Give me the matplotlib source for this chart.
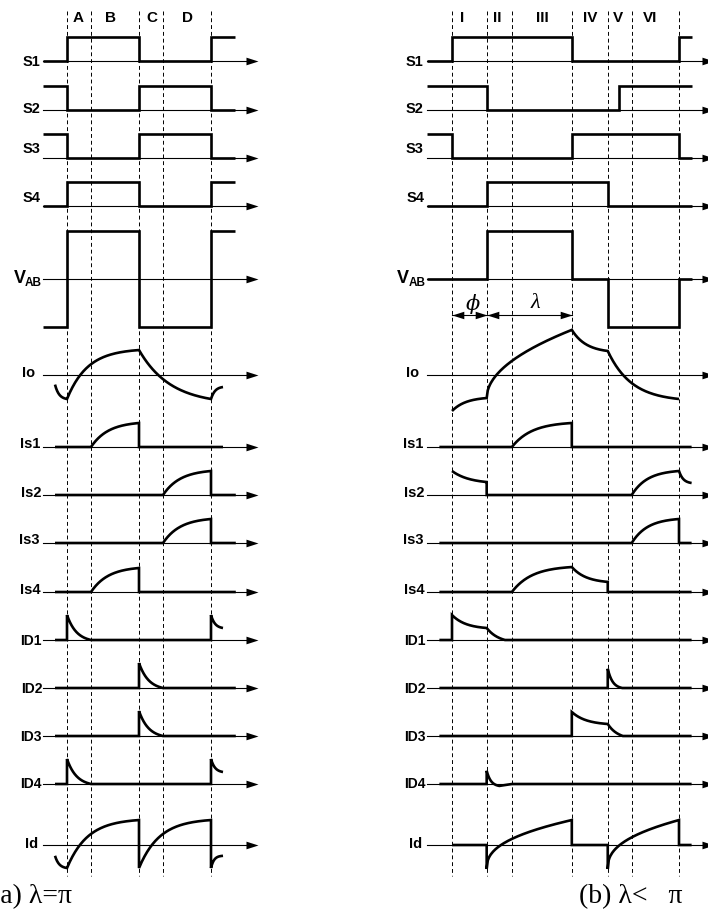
import numpy as np
import matplotlib
matplotlib.use('Agg')
import matplotlib.pyplot as plt
from matplotlib.path import Path
from matplotlib.transforms import offset_copy

W, H, DPI = 708, 920, 100

# ---------------- data ----------------
rows = ['S1', 'S2', 'S3', 'S4', 'VAB', 'Io', 'Is1', 'Is2', 'Is3', 'Is4',
        'ID1', 'ID2', 'ID3', 'ID4', 'Id']

# panel (a): lambda = pi  (time in electrical degrees)
edges_a = [0, 60, 180, 240, 360]
regions_a = ['A', 'B', 'C', 'D']
region_t_a = [28, 108, 212, 302]

# waveform pieces: (t0, t1, level) flat, or (t0, t1, v0, v1, kind, par) curved
S1_a = [(-60, 0, 0), (0, 180, 1), (180, 360, 0), (360, 420, 1)]
S2_a = [(-60, 0, 1), (0, 180, 0), (180, 360, 1), (360, 420, 0)]
S3_a = [(-60, 0, 1), (0, 180, 0), (180, 360, 1), (360, 420, 0)]
S4_a = [(-60, 0, 0), (0, 180, 1), (180, 360, 0), (360, 420, 1)]
VAB_a = [(-60, 0, -2), (0, 180, 2), (180, 360, -2), (360, 420, 2)]
Io_a = [(-30, 0, -0.4, -1.0, 'e', 3), (0, 180, -1.0, 1.04, 'e', 3.5),
        (180, 360, 1.04, -1.0, 'e', 2.3), (360, 390, -1.0, -0.5, 'e', 3)]
Is1_a = [(-30, 60, 0), (60, 180, 0, 1.0, 'e', 2.8), (180, 390, 0)]
Is2_a = [(-30, 240, 0), (240, 360, 0, 1.0, 'e', 2.8), (360, 422, 0)]
Is3_a = [(-30, 240, 0), (240, 360, 0, 1.0, 'e', 2.8), (360, 422, 0)]
Is4_a = [(-30, 60, 0), (60, 180, 0, 1.0, 'e', 2.8), (180, 422, 0)]
ID1_a = [(-30, 0, 0), (0, 60, 1.04, 0, 'e', 2.5), (60, 360, 0), (360, 390, 1.04, 0.5, 'e', 3)]
ID2_a = [(-30, 180, 0), (180, 240, 1.04, 0, 'e', 2.5), (240, 422, 0)]
ID3_a = [(-30, 180, 0), (180, 240, 1.04, 0, 'e', 2.5), (240, 422, 0)]
ID4_a = [(-30, 0, 0), (0, 60, 1.04, 0, 'e', 2.5), (60, 360, 0), (360, 390, 1.04, 0.5, 'e', 3)]
Id_a = [(-30, 0, -0.45, -0.96, 'e', 3), (0, 180, -0.96, 1.04, 'e', 3.5),
        (180, 360, -0.96, 1.04, 'e', 3.5), (360, 390, -0.96, -0.45, 'e', 4)]

# panel (b): lambda < pi
edges_b = [0, 55, 95, 190, 247, 285, 360]
regions_b = ['I', 'II', 'III', 'IV', 'V', 'VI']
region_t_b = [16, 71, 143, 219, 263, 314]
phi_b = (0, 55)
lam_b = (55, 190)

S1_b = [(-40, 0, 0), (0, 190, 1), (190, 360, 0), (360, 380, 1)]
S2_b = [(-40, 55, 1), (55, 265, 0), (265, 380, 1)]
S3_b = [(-40, 0, 1), (0, 190, 0), (190, 360, 1), (360, 380, 0)]
S4_b = [(-40, 55, 0), (55, 247, 1), (247, 380, 0)]
VAB_b = [(-40, 55, 0), (55, 190, 2), (190, 247, 0), (247, 360, -2), (360, 380, 0)]
Io_b = [(0, 55, -1.5, -0.96, 'e', 2.5), (55, 190, -0.96, 1.88, 'p', 0.5),
        (190, 247, 1.88, 1.0, 'e', 2.5), (247, 360, 1.0, -1.0, 'e', 3)]
Is1_b = [(-20, 95, 0), (95, 190, 0, 1.0, 'e', 3), (190, 380, 0)]
Is2_b = [(0, 55, 1.0, 0.54, 'e', 2), (55, 285, 0), (285, 360, 0, 1.0, 'e', 3),
         (360, 380, 1.0, 0.5, 'e', 3)]
Is3_b = [(-20, 285, 0), (285, 360, 0, 1.0, 'e', 3), (360, 380, 0)]
Is4_b = [(-20, 95, 0), (95, 190, 0, 1.04, 'e', 3), (190, 247, 1.04, 0.42, 'e', 2.5), (247, 380, 0)]
ID1_b = [(-20, 0, 0), (0, 55, 1.04, 0.5, 'e', 2.5), (55, 84, 0.5, 0, 'e', 1.5), (84, 380, 0)]
ID2_b = [(-20, 247, 0), (247, 270, 0.8, 0, 'e', 3), (270, 380, 0)]
ID3_b = [(-20, 190, 0), (190, 247, 1.0, 0.5, 'e', 2.5), (247, 271, 0.5, 0, 'e', 1.5), (271, 380, 0)]
ID4_b = [(-20, 55, 0), (55, 75, 0.55, -0.08, 'e', 3), (75, 95, -0.08, 0, 'l', 0), (95, 380, 0)]
Id_b = [(0, 55, 0), (55, 190, -1.0, 1.04, 'p', 0.4), (190, 247, 0),
        (247, 360, -1.0, 1.04, 'p', 0.4), (360, 380, 0)]

waves_a = [S1_a, S2_a, S3_a, S4_a, VAB_a, Io_a, Is1_a, Is2_a, Is3_a, Is4_a,
           ID1_a, ID2_a, ID3_a, ID4_a, Id_a]
waves_b = [S1_b, S2_b, S3_b, S4_b, VAB_b, Io_b, Is1_b, Is2_b, Is3_b, Is4_b,
           ID1_b, ID2_b, ID3_b, ID4_b, Id_b]

caption_a = '(a) λ=π'
caption_b = '(b) λ<   π'

# ---------------- layout ----------------
row_y = [62, 111, 159, 207, 280, 376, 448, 496, 544, 593, 641, 689, 737, 785, 846]
label_dy = [4, 2, -6, -5, 3, 1, 0, 1, 0, 1, 4, 4, 4, 3, 2]
label_gap = [3, 3, 3, 2, 1, 8, 3, 2, 3, 2, 1, 1, 1, 1, 5]
label_size = [10.5, 10.5, 10.5, 10.5, 10.5, 10.5, 10.5, 10.5, 10.5, 10.5,
              10, 10, 10, 10, 10.5]
unit = 24.0  # px per level unit

panels = [
    dict(origin=67, scale=0.4, start=-60, tip=477.5, edges=edges_a, regions=regions_a,
         region_t=region_t_a, waves=waves_a, caption=caption_a, cap_x=-9),
    dict(origin=452, scale=227 / 360, start=-40, tip=415, edges=edges_b, regions=regions_b,
         region_t=region_t_b, waves=waves_b, caption=caption_b, cap_x=579),
]

plt.rcParams['font.family'] = ['Liberation Sans', 'DejaVu Sans']

fig = plt.figure(figsize=(W / DPI, H / DPI), dpi=DPI)

THICK = 1.9
THIN = 0.8

head_r = Path([(0, 0), (-1, 0.32), (-1, -0.32), (0, 0)],
              [Path.MOVETO, Path.LINETO, Path.LINETO, Path.CLOSEPOLY])
head_l = Path([(0, 0), (1, 0.32), (1, -0.32), (0, 0)],
              [Path.MOVETO, Path.LINETO, Path.LINETO, Path.CLOSEPOLY])


def frac(s, kind, par):
    if kind == 'e':
        return (1 - np.exp(-par * s)) / (1 - np.exp(-par))
    if kind == 'p':
        return s ** par
    return s


def build(pieces):
    ts, vs = [], []
    for p in pieces:
        if len(p) == 3:
            t0, t1, v0 = p
            v1, kind, par = v0, 'l', 0
        else:
            t0, t1, v0, v1, kind, par = p
        s = np.linspace(0, 1, 80)
        ts.extend(t0 + (t1 - t0) * s)
        vs.extend(v0 + (v1 - v0) * frac(s, kind, par))
    return np.array(ts), np.array(vs)


def px2t(p, x):
    return (x - p['origin']) / p['scale']


for p in panels:
    ax = fig.add_axes([0, 0, 1, 1])
    ax.set_xlim(px2t(p, 0), px2t(p, W))
    ax.set_ylim(H, 0)
    ax.axis('off')
    ax.patch.set_alpha(0)

    # dashed region lines
    for e in p['edges']:
        ax.plot([e, e], [12, 877], color='black', lw=0.7, ls=(0, (4, 3)), zorder=1)

    # region labels
    for name, t in zip(p['regions'], p['region_t']):
        ax.text(t, 18, name, ha='center', va='center', fontsize=11, fontweight='bold')

    for i, (name, wave) in enumerate(zip(rows, p['waves'])):
        y0 = row_y[i]
        # thin axis with arrow
        ax.plot([p['start'], p['tip'] - 6 / p['scale']], [y0, y0], color='black', lw=THIN, zorder=2)
        ax.plot([p['tip']], [y0], marker=head_r, markersize=17.3, color='black',
                markeredgewidth=0, linestyle='none', zorder=3)
        # waveform
        ts, vs = build(wave)
        ax.plot(ts, y0 - vs * unit, color='black', lw=THICK, solid_joinstyle='miter',
                solid_capstyle='butt', zorder=4)
        # label
        tr = offset_copy(ax.transData, fig=fig, x=-label_gap[i], y=0, units='dots')
        if name == 'VAB':
            ax.text(p['start'], y0 + 6, 'AB', ha='right', va='baseline', fontsize=8.5,
                    fontweight='bold', transform=tr)
            tr2 = offset_copy(ax.transData, fig=fig, x=-label_gap[i] - 16.5, y=0, units='dots')
            ax.text(p['start'], y0 + 3, 'V', ha='right', va='baseline', fontsize=13,
                    fontweight='bold', transform=tr2)
        else:
            ax.text(p['start'], y0 + label_dy[i], name, ha='right', va='baseline',
                    fontsize=label_size[i], fontweight='bold', transform=tr)

    # caption
    ax.text(px2t(p, p['cap_x']), 903, p['caption'], ha='left', va='baseline', fontsize=20,
            family=['Liberation Serif', 'DejaVu Serif'])

    # phi / lambda arrows (panel b)
    if p['edges'] is edges_b:
        ya = 316
        for (a, b) in (phi_b, lam_b):
            ax.plot([a, b], [ya, ya], color='black', lw=THIN, zorder=2)
            ax.plot([a], [ya], marker=head_l, markersize=17, color='black',
                    markeredgewidth=0, linestyle='none')
            ax.plot([b], [ya], marker=head_r, markersize=17, color='black',
                    markeredgewidth=0, linestyle='none')
        ax.text(px2t(p, 473), 304, 'ϕ', ha='center', va='center', fontsize=15,
                style='italic', family=['DejaVu Serif', 'Liberation Serif'])
        ax.text(px2t(p, 535), 304, 'λ', ha='center', va='center', fontsize=16,
                style='italic', family=['Liberation Serif', 'DejaVu Serif'])

fig.savefig('out.png', dpi=DPI)
